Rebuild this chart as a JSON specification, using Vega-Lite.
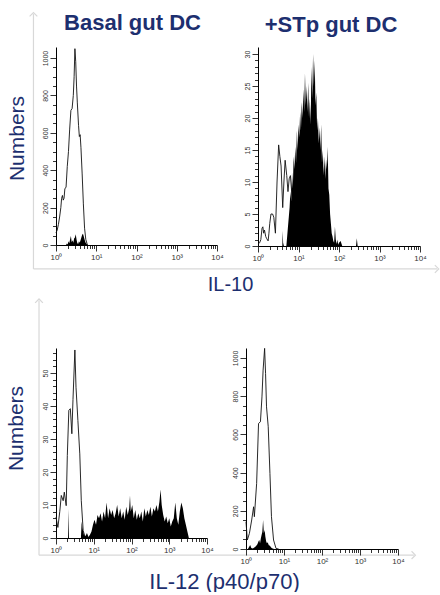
{
  "$schema": "https://vega.github.io/schema/vega-lite/v6.json",
  "background": "white",
  "padding": {"left": 4, "top": 10, "right": 2, "bottom": 0},
  "spacing": 2,
  "config": {
    "font": "Liberation Sans",
    "view": {"stroke": null},
    "axis": {"grid": false, "domainColor": "#000", "domainWidth": 1, "tickColor": "#000", "tickWidth": 0.8, "labelColor": "#333", "labelFontSize": 7, "labelFont": "Liberation Sans", "titleFont": "Liberation Sans", "titleFontWeight": "normal", "titleColor": "#1d2f6f"},
    "title": {"font": "Liberation Sans", "fontWeight": "bold", "color": "#1d2f6f", "fontSize": 22, "baseline": "alphabetic", "frame": "group"}
  },
  "datasets": {
    "A_iso": [{"logfl":0,"count":65},{"logfl":0.03,"count":80},{"logfl":0.06,"count":110},{"logfl":0.09,"count":150},{"logfl":0.12,"count":200},{"logfl":0.14,"count":250},{"logfl":0.16,"count":265},{"logfl":0.18,"count":240},{"logfl":0.2,"count":250},{"logfl":0.22,"count":300},{"logfl":0.25,"count":310},{"logfl":0.28,"count":420},{"logfl":0.31,"count":500},{"logfl":0.34,"count":620},{"logfl":0.37,"count":720},{"logfl":0.4,"count":730},{"logfl":0.43,"count":800},{"logfl":0.45,"count":900},{"logfl":0.47,"count":1050},{"logfl":0.49,"count":980},{"logfl":0.51,"count":850},{"logfl":0.53,"count":760},{"logfl":0.56,"count":640},{"logfl":0.58,"count":580},{"logfl":0.6,"count":590},{"logfl":0.62,"count":520},{"logfl":0.65,"count":380},{"logfl":0.68,"count":220},{"logfl":0.71,"count":90},{"logfl":0.74,"count":30},{"logfl":0.78,"count":0}],
    "A_stain": [{"logfl":0.25,"count":0},{"logfl":0.27,"count":8},{"logfl":0.29,"count":3},{"logfl":0.31,"count":20},{"logfl":0.33,"count":10},{"logfl":0.35,"count":30},{"logfl":0.37,"count":48},{"logfl":0.39,"count":15},{"logfl":0.41,"count":25},{"logfl":0.43,"count":12},{"logfl":0.45,"count":35},{"logfl":0.47,"count":40},{"logfl":0.49,"count":58},{"logfl":0.51,"count":30},{"logfl":0.53,"count":10},{"logfl":0.55,"count":5},{"logfl":0.57,"count":20},{"logfl":0.59,"count":12},{"logfl":0.61,"count":25},{"logfl":0.63,"count":40},{"logfl":0.65,"count":55},{"logfl":0.67,"count":60},{"logfl":0.69,"count":45},{"logfl":0.71,"count":30},{"logfl":0.73,"count":15},{"logfl":0.75,"count":8},{"logfl":0.77,"count":3},{"logfl":0.8,"count":0}],
    "B_iso": [{"logfl":0,"count":0.3},{"logfl":0.04,"count":0.5},{"logfl":0.07,"count":1},{"logfl":0.1,"count":2.8},{"logfl":0.12,"count":3},{"logfl":0.14,"count":2},{"logfl":0.16,"count":2.5},{"logfl":0.19,"count":1.5},{"logfl":0.21,"count":1.2},{"logfl":0.25,"count":0.8},{"logfl":0.27,"count":2},{"logfl":0.29,"count":3.5},{"logfl":0.32,"count":5},{"logfl":0.36,"count":5},{"logfl":0.39,"count":4.5},{"logfl":0.43,"count":2},{"logfl":0.47,"count":10},{"logfl":0.51,"count":15.8},{"logfl":0.54,"count":14},{"logfl":0.57,"count":12.5},{"logfl":0.61,"count":6},{"logfl":0.64,"count":10},{"logfl":0.67,"count":13.4},{"logfl":0.71,"count":11},{"logfl":0.74,"count":8.5},{"logfl":0.77,"count":10.5},{"logfl":0.8,"count":11},{"logfl":0.85,"count":7},{"logfl":0.9,"count":3},{"logfl":0.96,"count":0}],
    "B_stain": [{"logfl":0.6,"count":0},{"logfl":0.61,"count":2.4},{"logfl":0.62,"count":0.5},{"logfl":0.64,"count":0},{"logfl":0.7,"count":0},{"logfl":0.72,"count":1.5},{"logfl":0.74,"count":3},{"logfl":0.76,"count":4.5},{"logfl":0.78,"count":6},{"logfl":0.8,"count":8.5},{"logfl":0.82,"count":7},{"logfl":0.84,"count":11.5},{"logfl":0.86,"count":9},{"logfl":0.88,"count":14},{"logfl":0.9,"count":12},{"logfl":0.92,"count":15.5},{"logfl":0.94,"count":13},{"logfl":0.96,"count":18},{"logfl":0.98,"count":15},{"logfl":1,"count":19},{"logfl":1.02,"count":17},{"logfl":1.04,"count":21},{"logfl":1.06,"count":18},{"logfl":1.08,"count":22.5},{"logfl":1.1,"count":20},{"logfl":1.12,"count":24.5},{"logfl":1.14,"count":21},{"logfl":1.16,"count":27},{"logfl":1.18,"count":22},{"logfl":1.2,"count":25},{"logfl":1.22,"count":21},{"logfl":1.24,"count":25.5},{"logfl":1.26,"count":20},{"logfl":1.28,"count":23},{"logfl":1.3,"count":19},{"logfl":1.32,"count":28},{"logfl":1.34,"count":23},{"logfl":1.36,"count":30},{"logfl":1.38,"count":25},{"logfl":1.4,"count":29},{"logfl":1.42,"count":22},{"logfl":1.44,"count":24},{"logfl":1.46,"count":18},{"logfl":1.48,"count":20},{"logfl":1.5,"count":16},{"logfl":1.52,"count":18.5},{"logfl":1.54,"count":15},{"logfl":1.56,"count":19},{"logfl":1.58,"count":13},{"logfl":1.6,"count":15},{"logfl":1.62,"count":11},{"logfl":1.64,"count":14},{"logfl":1.66,"count":10.5},{"logfl":1.68,"count":13.5},{"logfl":1.7,"count":12},{"logfl":1.72,"count":15.5},{"logfl":1.74,"count":9},{"logfl":1.76,"count":8},{"logfl":1.78,"count":5},{"logfl":1.8,"count":3.5},{"logfl":1.82,"count":2},{"logfl":1.84,"count":1.5},{"logfl":1.86,"count":0.8},{"logfl":1.88,"count":0.5},{"logfl":1.9,"count":3},{"logfl":1.92,"count":1},{"logfl":1.94,"count":0.3},{"logfl":1.96,"count":1},{"logfl":1.98,"count":0.2},{"logfl":2,"count":0.5},{"logfl":2.04,"count":0.8},{"logfl":2.08,"count":0},{"logfl":2.42,"count":0},{"logfl":2.44,"count":1.2},{"logfl":2.46,"count":0}],
    "C_iso": [{"logfl":0,"count":6.3},{"logfl":0.05,"count":3.2},{"logfl":0.1,"count":8},{"logfl":0.14,"count":12.9},{"logfl":0.19,"count":11.3},{"logfl":0.22,"count":13.9},{"logfl":0.27,"count":9.8},{"logfl":0.3,"count":25},{"logfl":0.34,"count":38.7},{"logfl":0.38,"count":39.2},{"logfl":0.42,"count":31.6},{"logfl":0.45,"count":42},{"logfl":0.5,"count":57},{"logfl":0.53,"count":45.7},{"logfl":0.58,"count":35.6},{"logfl":0.63,"count":25.5},{"logfl":0.67,"count":11.3},{"logfl":0.72,"count":2.2},{"logfl":0.78,"count":0}],
    "C_stain": [{"logfl":0.32,"count":0},{"logfl":0.33,"count":8.8},{"logfl":0.345,"count":0},{"logfl":0.66,"count":0},{"logfl":0.68,"count":5},{"logfl":0.7,"count":3},{"logfl":0.72,"count":2},{"logfl":0.74,"count":1},{"logfl":0.78,"count":0.5},{"logfl":0.82,"count":1.5},{"logfl":0.86,"count":0.3},{"logfl":0.9,"count":1},{"logfl":0.94,"count":2},{"logfl":0.98,"count":4},{"logfl":1.02,"count":5.5},{"logfl":1.06,"count":4},{"logfl":1.1,"count":7},{"logfl":1.14,"count":6},{"logfl":1.18,"count":7.5},{"logfl":1.22,"count":5},{"logfl":1.26,"count":8},{"logfl":1.3,"count":6},{"logfl":1.34,"count":10.8},{"logfl":1.38,"count":6},{"logfl":1.42,"count":9},{"logfl":1.46,"count":7},{"logfl":1.5,"count":8.5},{"logfl":1.54,"count":6},{"logfl":1.58,"count":7.5},{"logfl":1.62,"count":10},{"logfl":1.66,"count":6.5},{"logfl":1.7,"count":9},{"logfl":1.74,"count":6},{"logfl":1.78,"count":8},{"logfl":1.82,"count":5.5},{"logfl":1.86,"count":9.5},{"logfl":1.9,"count":7},{"logfl":1.94,"count":9},{"logfl":1.96,"count":12.9},{"logfl":1.98,"count":8},{"logfl":2.02,"count":10},{"logfl":2.06,"count":6},{"logfl":2.1,"count":8.5},{"logfl":2.14,"count":5.5},{"logfl":2.18,"count":7.5},{"logfl":2.22,"count":6},{"logfl":2.26,"count":8},{"logfl":2.3,"count":5},{"logfl":2.34,"count":9},{"logfl":2.38,"count":6.5},{"logfl":2.42,"count":8.5},{"logfl":2.46,"count":7},{"logfl":2.5,"count":9.5},{"logfl":2.54,"count":6.5},{"logfl":2.58,"count":9},{"logfl":2.62,"count":8},{"logfl":2.66,"count":10},{"logfl":2.7,"count":8},{"logfl":2.74,"count":11},{"logfl":2.77,"count":14.7},{"logfl":2.8,"count":10},{"logfl":2.84,"count":7},{"logfl":2.88,"count":5},{"logfl":2.92,"count":6.5},{"logfl":2.96,"count":4.5},{"logfl":3,"count":6},{"logfl":3.04,"count":3.5},{"logfl":3.08,"count":5},{"logfl":3.12,"count":6},{"logfl":3.16,"count":10.8},{"logfl":3.2,"count":6},{"logfl":3.24,"count":4},{"logfl":3.28,"count":8},{"logfl":3.32,"count":10.8},{"logfl":3.36,"count":9},{"logfl":3.4,"count":6},{"logfl":3.44,"count":4},{"logfl":3.48,"count":2},{"logfl":3.52,"count":0}],
    "D_iso": [{"logfl":0,"count":143},{"logfl":0.035,"count":47},{"logfl":0.09,"count":82},{"logfl":0.15,"count":152},{"logfl":0.2,"count":221},{"logfl":0.22,"count":169},{"logfl":0.28,"count":343},{"logfl":0.33,"count":657},{"logfl":0.38,"count":666},{"logfl":0.42,"count":796},{"logfl":0.45,"count":936},{"logfl":0.49,"count":1050},{"logfl":0.515,"count":918},{"logfl":0.54,"count":744},{"logfl":0.585,"count":640},{"logfl":0.63,"count":395},{"logfl":0.67,"count":169},{"logfl":0.725,"count":47},{"logfl":0.79,"count":3},{"logfl":0.86,"count":0}],
    "D_stain": [{"logfl":0.05,"count":0},{"logfl":0.08,"count":10},{"logfl":0.11,"count":21},{"logfl":0.14,"count":5},{"logfl":0.18,"count":3},{"logfl":0.22,"count":8},{"logfl":0.26,"count":15},{"logfl":0.3,"count":25},{"logfl":0.33,"count":40},{"logfl":0.35,"count":47},{"logfl":0.37,"count":30},{"logfl":0.39,"count":55},{"logfl":0.41,"count":73},{"logfl":0.43,"count":90},{"logfl":0.45,"count":152},{"logfl":0.47,"count":82},{"logfl":0.49,"count":100},{"logfl":0.51,"count":64},{"logfl":0.53,"count":40},{"logfl":0.55,"count":30},{"logfl":0.57,"count":35},{"logfl":0.6,"count":20},{"logfl":0.63,"count":17},{"logfl":0.66,"count":8},{"logfl":0.7,"count":3},{"logfl":0.74,"count":0}],
    "frame": [{"part": "axis arrow"}]
  },
  "vconcat": [
    {
      "hconcat": [
        {
          "width": 161, "height": 198,
          "title": {"text": "Basal gut DC", "offset": -25, "dx": -4},
          "resolve": {"axis": {"x": "independent", "y": "independent"}},
          "layer": [
            {"data": {"name": "A_iso"}, "mark": {"type": "line", "color": "#111", "strokeWidth": 0.9},
              "encoding": {
                "x": {"field": "logfl", "type": "quantitative", "scale": {"domain": [0, 4], "nice": false, "zero": false},
                  "axis": {"values": [0,0.30103,0.47712,0.60206,0.69897,0.77815,0.8451,0.90309,0.95424,1,1.30103,1.47712,1.60206,1.69897,1.77815,1.8451,1.90309,1.95424,2,2.30103,2.47712,2.60206,2.69897,2.77815,2.8451,2.90309,2.95424,3,3.30103,3.47712,3.60206,3.69897,3.77815,3.8451,3.90309,3.95424,4],
                    "labelExpr": "datum.value % 1 === 0 ? '10' + ['⁰','¹','²','³','⁴'][datum.value] : ''",
                    "tickSize": {"condition": {"test": "datum.value % 1 === 0", "value": 6}, "value": 3.5},
                    "labelAngle": 0, "labelPadding": 2, "labelFontSize": 8, "labelFlush": false, "labelOverlap": false,
                    "title": "IL-10", "titleFontSize": 20, "titleX": 174, "titleY": 45, "titleAlign": "center", "titleBaseline": "alphabetic"}},
                "y": {"field": "count", "type": "quantitative", "scale": {"domain": [0, 1059], "nice": false},
                  "axis": {"values": [0,50,100,150,200,250,300,350,400,450,500,550,600,650,700,750,800,850,900,950,1000], "format": "d",
                    "labelExpr": "datum.value % 200 === 0 ? datum.label : ''",
                    "tickSize": {"condition": {"test": "datum.value % 200 === 0", "value": 6}, "value": 3.5},
                    "labelAngle": -90, "labelPadding": 2, "labelOverlap": false, "labelFlush": false,
                    "title": "Numbers", "titleFontSize": 21, "titlePadding": 14, "titleY": 91}}
              }},
            {"data": {"name": "A_stain"}, "mark": {"type": "area", "color": "#000"},
              "encoding": {"x": {"field": "logfl", "type": "quantitative", "scale": {"domain": [0, 4], "nice": false, "zero": false}, "axis": null}, "y": {"field": "count", "type": "quantitative", "scale": {"domain": [0, 1059], "nice": false}, "axis": null}}},
            {"data": {"name": "frame"}, "mark": {"type": "rule", "color": "#d8d8d8", "strokeWidth": 1.2, "clip": false},
              "encoding": {"x": {"datum": -0.56, "type": "quantitative", "scale": {"domain": [0, 4], "nice": false, "zero": false}, "axis": null}, "y": {"datum": -128, "type": "quantitative", "scale": {"domain": [0, 1059], "nice": false}, "axis": null}, "y2": {"datum": 1235}}},
            {"data": {"name": "frame"}, "mark": {"type": "rule", "color": "#d8d8d8", "strokeWidth": 1.2, "clip": false},
              "encoding": {"x": {"datum": -0.56, "type": "quantitative", "scale": {"domain": [0, 4], "nice": false, "zero": false}, "axis": null}, "x2": {"datum": 9.47}, "y": {"datum": -128, "type": "quantitative", "scale": {"domain": [0, 1059], "nice": false}, "axis": null}}},
            {"data": {"name": "frame"}, "mark": {"type": "point", "shape": "M-1,0.6L0,-0.4L1,0.6", "size": 60, "filled": false, "stroke": "#d8d8d8", "strokeWidth": 1.2, "opacity": 1, "clip": false},
              "encoding": {"x": {"datum": -0.56, "type": "quantitative", "scale": {"domain": [0, 4], "nice": false, "zero": false}, "axis": null}, "y": {"datum": 1235, "type": "quantitative", "scale": {"domain": [0, 1059], "nice": false}, "axis": null}}},
            {"data": {"name": "frame"}, "mark": {"type": "point", "shape": "M-0.6,-1L0.4,0L-0.6,1", "size": 60, "filled": false, "stroke": "#d8d8d8", "strokeWidth": 1.2, "opacity": 1, "clip": false},
              "encoding": {"x": {"datum": 9.47, "type": "quantitative", "scale": {"domain": [0, 4], "nice": false, "zero": false}, "axis": null}, "y": {"datum": -128, "type": "quantitative", "scale": {"domain": [0, 1059], "nice": false}, "axis": null}}}
          ]
        },
        {
          "width": 162, "height": 199,
          "title": {"text": "+STp gut DC", "offset": 10, "dx": -8},
          "encoding": {
            "x": {"field": "logfl", "type": "quantitative", "scale": {"domain": [0, 4], "nice": false, "zero": false},
              "axis": {"values": [0,0.30103,0.47712,0.60206,0.69897,0.77815,0.8451,0.90309,0.95424,1,1.30103,1.47712,1.60206,1.69897,1.77815,1.8451,1.90309,1.95424,2,2.30103,2.47712,2.60206,2.69897,2.77815,2.8451,2.90309,2.95424,3,3.30103,3.47712,3.60206,3.69897,3.77815,3.8451,3.90309,3.95424,4],
                "labelExpr": "datum.value % 1 === 0 ? '10' + ['⁰','¹','²','³','⁴'][datum.value] : ''",
                "tickSize": {"condition": {"test": "datum.value % 1 === 0", "value": 6}, "value": 3.5},
                "labelAngle": 0, "labelPadding": 2, "labelFontSize": 8, "labelFlush": false, "labelOverlap": false,
                "title": null}},
            "y": {"field": "count", "type": "quantitative", "scale": {"domain": [0, 31.1], "nice": false},
              "axis": {"values": [0,1,2,3,4,5,6,7,8,9,10,11,12,13,14,15,16,17,18,19,20,21,22,23,24,25,26,27,28,29,30], "format": "d",
                "labelExpr": "datum.value % 5 === 0 ? datum.label : ''",
                "tickSize": {"condition": {"test": "datum.value % 5 === 0", "value": 6}, "value": 3.5},
                "labelAngle": -90, "labelPadding": 2, "labelOverlap": false, "labelFlush": false,
                "title": null}}
          },
          "layer": [
            {"data": {"name": "B_iso"}, "mark": {"type": "line", "color": "#111", "strokeWidth": 0.9}},
            {"data": {"name": "B_stain"}, "mark": {"type": "area", "color": "#000"}}
          ]
        }
      ],
      "spacing": 41,
      "bounds": "flush"
    },
    {
      "hconcat": [
        {
          "width": 151, "height": 190,
          "resolve": {"axis": {"x": "independent", "y": "independent"}},
          "layer": [
            {"data": {"name": "C_iso"}, "mark": {"type": "line", "color": "#111", "strokeWidth": 0.9},
              "encoding": {
                "x": {"field": "logfl", "type": "quantitative", "scale": {"domain": [0, 4], "nice": false, "zero": false},
                  "axis": {"values": [0,0.30103,0.47712,0.60206,0.69897,0.77815,0.8451,0.90309,0.95424,1,1.30103,1.47712,1.60206,1.69897,1.77815,1.8451,1.90309,1.95424,2,2.30103,2.47712,2.60206,2.69897,2.77815,2.8451,2.90309,2.95424,3,3.30103,3.47712,3.60206,3.69897,3.77815,3.8451,3.90309,3.95424,4],
                    "labelExpr": "datum.value % 1 === 0 ? '10' + ['⁰','¹','²','³','⁴'][datum.value] : ''",
                    "tickSize": {"condition": {"test": "datum.value % 1 === 0", "value": 6}, "value": 3.5},
                    "labelAngle": 0, "labelPadding": 2, "labelFontSize": 8, "labelFlush": false, "labelOverlap": false,
                    "title": "IL-12 (p40/p70)", "titleFontSize": 22, "titleX": 168, "titleY": 50, "titleAlign": "center", "titleBaseline": "alphabetic"}},
                "y": {"field": "count", "type": "quantitative", "scale": {"domain": [0, 57.6], "nice": false},
                  "axis": {"values": [0,2,4,6,8,10,12,14,16,18,20,22,24,26,28,30,32,34,36,38,40,42,44,46,48,50,52,54,56], "format": "d",
                    "labelExpr": "datum.value % 10 === 0 ? datum.label : ''",
                    "tickSize": {"condition": {"test": "datum.value % 10 === 0", "value": 6}, "value": 3.5},
                    "labelAngle": -90, "labelPadding": 2, "labelOverlap": false, "labelFlush": false,
                    "title": "Numbers", "titleFontSize": 21, "titlePadding": 15, "titleY": 80}}
              }},
            {"data": {"name": "C_stain"}, "mark": {"type": "area", "color": "#000"},
              "encoding": {"x": {"field": "logfl", "type": "quantitative", "scale": {"domain": [0, 4], "nice": false, "zero": false}, "axis": null}, "y": {"field": "count", "type": "quantitative", "scale": {"domain": [0, 57.6], "nice": false}, "axis": null}}},
            {"data": {"name": "frame"}, "mark": {"type": "rule", "color": "#d8d8d8", "strokeWidth": 1.2, "clip": false},
              "encoding": {"x": {"datum": -0.45, "type": "quantitative", "scale": {"domain": [0, 4], "nice": false, "zero": false}, "axis": null}, "y": {"datum": -5.2, "type": "quantitative", "scale": {"domain": [0, 57.6], "nice": false}, "axis": null}, "y2": {"datum": 72}}},
            {"data": {"name": "frame"}, "mark": {"type": "rule", "color": "#d8d8d8", "strokeWidth": 1.2, "clip": false},
              "encoding": {"x": {"datum": -0.45, "type": "quantitative", "scale": {"domain": [0, 4], "nice": false, "zero": false}, "axis": null}, "x2": {"datum": 9.48}, "y": {"datum": -5.2, "type": "quantitative", "scale": {"domain": [0, 57.6], "nice": false}, "axis": null}}},
            {"data": {"name": "frame"}, "mark": {"type": "point", "shape": "M-1,0.6L0,-0.4L1,0.6", "size": 60, "filled": false, "stroke": "#d8d8d8", "strokeWidth": 1.2, "opacity": 1, "clip": false},
              "encoding": {"x": {"datum": -0.45, "type": "quantitative", "scale": {"domain": [0, 4], "nice": false, "zero": false}, "axis": null}, "y": {"datum": 72, "type": "quantitative", "scale": {"domain": [0, 57.6], "nice": false}, "axis": null}}},
            {"data": {"name": "frame"}, "mark": {"type": "point", "shape": "M-0.6,-1L0.4,0L-0.6,1", "size": 60, "filled": false, "stroke": "#d8d8d8", "strokeWidth": 1.2, "opacity": 1, "clip": false},
              "encoding": {"x": {"datum": 9.48, "type": "quantitative", "scale": {"domain": [0, 4], "nice": false, "zero": false}, "axis": null}, "y": {"datum": -5.2, "type": "quantitative", "scale": {"domain": [0, 57.6], "nice": false}, "axis": null}}}
          ]
        },
        {
          "width": 152, "height": 201,
          "encoding": {
            "x": {"field": "logfl", "type": "quantitative", "scale": {"domain": [0, 4], "nice": false, "zero": false},
              "axis": {"values": [0,0.30103,0.47712,0.60206,0.69897,0.77815,0.8451,0.90309,0.95424,1,1.30103,1.47712,1.60206,1.69897,1.77815,1.8451,1.90309,1.95424,2,2.30103,2.47712,2.60206,2.69897,2.77815,2.8451,2.90309,2.95424,3,3.30103,3.47712,3.60206,3.69897,3.77815,3.8451,3.90309,3.95424,4],
                "labelExpr": "datum.value % 1 === 0 ? '10' + ['⁰','¹','²','³','⁴'][datum.value] : ''",
                "tickSize": {"condition": {"test": "datum.value % 1 === 0", "value": 6}, "value": 3.5},
                "labelAngle": 0, "labelPadding": 2, "labelFontSize": 8, "labelFlush": false, "labelOverlap": false,
                "title": null}},
            "y": {"field": "count", "type": "quantitative", "scale": {"domain": [0, 1052], "nice": false},
              "axis": {"values": [0,50,100,150,200,250,300,350,400,450,500,550,600,650,700,750,800,850,900,950,1000], "format": "d",
                "labelExpr": "datum.value % 200 === 0 ? datum.label : ''",
                "tickSize": {"condition": {"test": "datum.value % 200 === 0", "value": 6}, "value": 3.5},
                "labelAngle": -90, "labelPadding": 2, "labelOverlap": false, "labelFlush": false,
                "title": null}}
          },
          "layer": [
            {"data": {"name": "D_iso"}, "mark": {"type": "line", "color": "#111", "strokeWidth": 0.9}},
            {"data": {"name": "D_stain"}, "mark": {"type": "area", "color": "#000"}}
          ]
        }
      ],
      "spacing": 39,
      "bounds": "flush"
    }
  ]
}
